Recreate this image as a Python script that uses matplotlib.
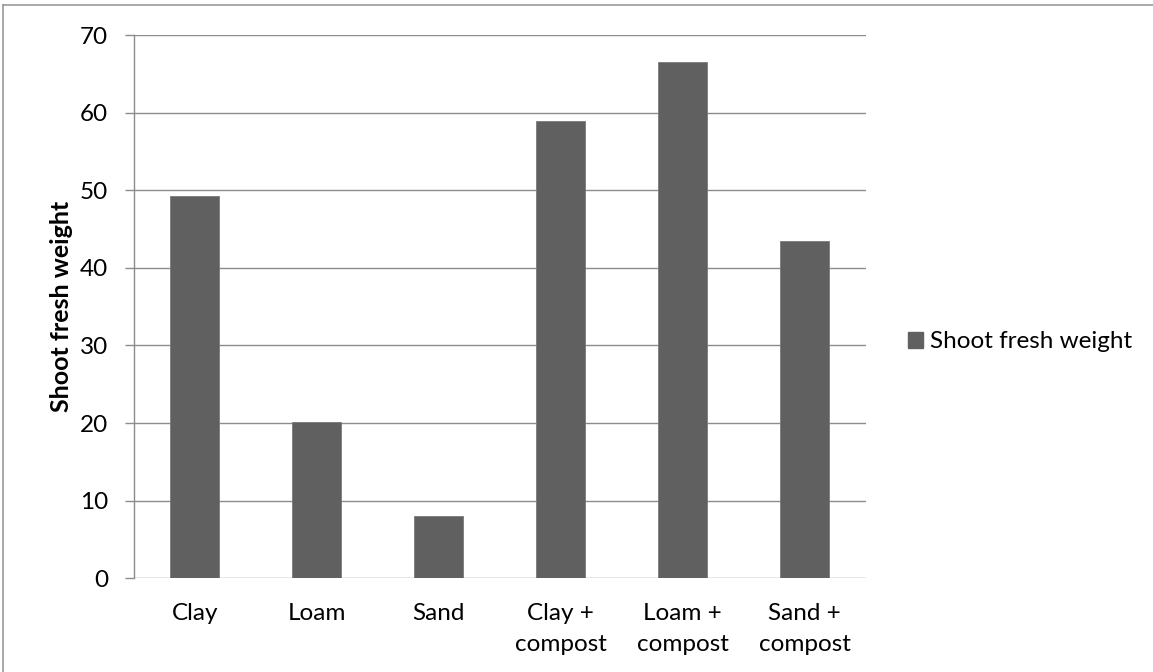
import matplotlib
matplotlib.use("Agg")
import matplotlib.pyplot as plt
from matplotlib.lines import Line2D
from matplotlib.patches import Patch

# Shoot fresh weight per soil treatment
categories = ["Clay", "Loam", "Sand", "Clay +\ncompost", "Loam +\ncompost", "Sand +\ncompost"]
shoot_fresh_weight = [49.3, 20.1, 8.0, 58.9, 66.5, 43.4]
y_ticks = [0, 10, 20, 30, 40, 50, 60, 70]
series_name = "Shoot fresh weight"

W, H, DPI = 1153, 672, 100
plt.rcParams["font.family"] = ["Lato", "DejaVu Sans"]
FS = 17.5

fig = plt.figure(figsize=(W / DPI, H / DPI), dpi=DPI)
fig.patch.set_facecolor("white")

ax_left, ax_right, ax_top, ax_bottom = 133.7, 865.7, 35.0, 578.3
ax = fig.add_axes([ax_left / W, 1 - ax_bottom / H,
                   (ax_right - ax_left) / W, (ax_bottom - ax_top) / H])

bar_color = "#606060"
grid_color = "#8c8c8c"

x = list(range(len(categories)))
ax.bar(x, shoot_fresh_weight, width=0.4, color=bar_color,
       edgecolor="#7a7a7a", linewidth=0.6, zorder=3)

ax.set_xlim(-0.5, len(categories) - 0.5)
ax.set_ylim(0, 70)
ax.set_yticks(y_ticks)
ax.set_yticklabels([str(t) for t in y_ticks])
ax.set_xticks(x)
ax.set_xticklabels(categories, linespacing=1.6)

ax.yaxis.grid(True, color=grid_color, linewidth=1.0, zorder=0)
ax.set_axisbelow(True)

for side in ("top", "right", "bottom"):
    ax.spines[side].set_visible(False)
ax.spines["left"].set_color(grid_color)
ax.spines["left"].set_linewidth(1.0)

ax.tick_params(axis="y", direction="out", length=6.3, width=1.0,
               color=grid_color, pad=12, labelsize=FS, labelcolor="black")
ax.tick_params(axis="x", length=0, pad=18, labelsize=FS, labelcolor="black")

ax.set_ylabel(series_name, fontsize=18, fontweight="bold")
ax.yaxis.set_label_coords(-(ax_left - 73) / (ax_right - ax_left), 0.5)

# Legend to the right of the plot area
handle = Patch(facecolor=bar_color, edgecolor=bar_color)
fig.legend([handle], [series_name], loc="center left",
           bbox_to_anchor=(908 / W, 1 - 342 / H), frameon=False,
           fontsize=FS, handlelength=0.62, handleheight=0.62,
           handletextpad=0.28, borderpad=0, borderaxespad=0)

# Chart area outline (left and top edges)
fig.add_artist(Line2D([3 / W, 3 / W], [0, 1 - 5 / H], color="#9a9a9a",
                      linewidth=1.2, transform=fig.transFigure))
fig.add_artist(Line2D([3 / W, 1], [1 - 5 / H, 1 - 5 / H], color="#9a9a9a",
                      linewidth=1.2, transform=fig.transFigure))

fig.savefig("out.png", dpi=DPI, facecolor="white")
